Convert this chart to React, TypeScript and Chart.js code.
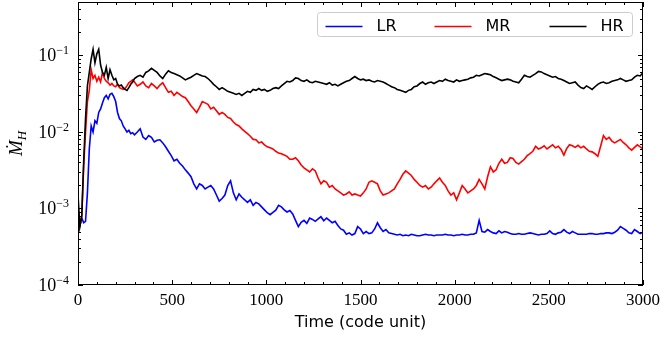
import React, { useEffect, useRef } from 'react';
import { Chart, registerables } from 'chart.js';

Chart.register(...registerables);

// ---- data ----
const time = [
  0, 10, 20, 30, 40, 50, 60, 70, 80, 90, 100, 110, 120, 130, 140, 150, 160, 170, 180, 190, 200,
  210, 220, 230, 240, 250, 260, 270, 280, 290, 300,
  315, 330, 345, 360, 375, 390, 405, 420, 435, 450,
  465, 480, 495, 510, 525, 540, 555, 570, 585, 600,
  615, 630, 645, 660, 675, 690, 705, 720, 735, 750,
  765, 780, 795, 810, 825, 840, 855, 870, 885, 900,
  915, 930, 945, 960, 975, 990, 1005, 1020, 1035, 1050,
  1065, 1080, 1095, 1110, 1125, 1140, 1155, 1170, 1185, 1200,
  1215, 1230, 1245, 1260, 1275, 1290, 1305, 1320, 1335, 1350,
  1365, 1380, 1395, 1410, 1425, 1440, 1455, 1470, 1485, 1500,
  1515, 1530, 1545, 1560, 1575, 1590, 1605, 1620, 1635, 1650,
  1665, 1680, 1695, 1710, 1725, 1740, 1755, 1770, 1785, 1800,
  1815, 1830, 1845, 1860, 1875, 1890, 1905, 1920, 1935, 1950,
  1965, 1980, 1995, 2010, 2025, 2040, 2055, 2070, 2085, 2100,
  2115, 2130, 2145, 2160, 2175, 2190, 2205, 2220, 2235, 2250,
  2265, 2280, 2295, 2310, 2325, 2340, 2355, 2370, 2385, 2400,
  2415, 2430, 2445, 2460, 2475, 2490, 2505, 2520, 2535, 2550,
  2565, 2580, 2595, 2610, 2625, 2640, 2655, 2670, 2685, 2700,
  2715, 2730, 2745, 2760, 2775, 2790, 2805, 2820, 2835, 2850,
  2865, 2880, 2895, 2910, 2925, 2940, 2955, 2970, 2985, 3000,
];

const lrValues = [
  5.0e-4, 6.0e-4, 7.5e-4, 6.5e-4, 6.8e-4, 1.6e-3, 6.0e-3, 1.2e-2, 1.0e-2, 1.4e-2, 1.3e-2, 1.8e-2, 2.0e-2, 2.4e-2, 2.8e-2, 3.0e-2, 2.7e-2, 3.1e-2, 3.2e-2, 2.9e-2, 2.5e-2,
  1.8e-2, 1.5e-2, 1.4e-2, 1.2e-2, 1.1e-2, 1.0e-2, 1.05e-2, 9.5e-3, 9.8e-3, 9.2e-3,
  1.0e-2, 1.1e-2, 8.6e-3, 8.0e-3, 9.0e-3, 8.5e-3, 7.4e-3, 7.8e-3, 7.9e-3, 7.2e-3,
  6.4e-3, 5.6e-3, 4.9e-3, 4.2e-3, 4.4e-3, 3.9e-3, 3.6e-3, 3.2e-3, 2.9e-3, 2.6e-3,
  2.1e-3, 1.8e-3, 2.1e-3, 2.0e-3, 1.8e-3, 1.9e-3, 2.0e-3, 1.8e-3, 1.5e-3, 1.25e-3,
  1.35e-3, 1.5e-3, 2.0e-3, 2.3e-3, 1.6e-3, 1.3e-3, 1.55e-3, 1.4e-3, 1.3e-3, 1.2e-3,
  1.3e-3, 1.1e-3, 1.2e-3, 1.15e-3, 1.05e-3, 9.6e-4, 8.8e-4, 8.3e-4, 8.9e-4, 9.5e-4,
  1.1e-3, 1.05e-3, 9.6e-4, 9.0e-4, 9.4e-4, 8.5e-4, 7.0e-4, 5.8e-4, 6.6e-4, 7.0e-4,
  6.4e-4, 7.5e-4, 7.2e-4, 6.8e-4, 7.3e-4, 7.8e-4, 6.9e-4, 7.5e-4, 7.0e-4, 6.5e-4,
  6.8e-4, 6.0e-4, 5.4e-4, 5.2e-4, 4.6e-4, 4.8e-4, 4.5e-4, 4.7e-4, 5.8e-4, 5.4e-4,
  4.7e-4, 5.0e-4, 4.7e-4, 4.8e-4, 5.4e-4, 6.5e-4, 5.6e-4, 5.0e-4, 5.3e-4, 4.8e-4,
  4.7e-4, 4.6e-4, 4.5e-4, 4.6e-4, 4.4e-4, 4.5e-4, 4.4e-4, 4.6e-4, 4.5e-4, 4.4e-4,
  4.4e-4, 4.5e-4, 4.6e-4, 4.5e-4, 4.5e-4, 4.4e-4, 4.5e-4, 4.5e-4, 4.5e-4, 4.6e-4,
  4.5e-4, 4.5e-4, 4.4e-4, 4.5e-4, 4.5e-4, 4.6e-4, 4.5e-4, 4.5e-4, 4.6e-4, 4.6e-4,
  4.8e-4, 7.0e-4, 5.0e-4, 4.9e-4, 5.3e-4, 5.0e-4, 4.8e-4, 4.7e-4, 5.1e-4, 4.8e-4,
  5.0e-4, 4.9e-4, 4.7e-4, 4.6e-4, 4.6e-4, 4.7e-4, 4.6e-4, 4.6e-4, 4.7e-4, 4.8e-4,
  4.7e-4, 4.6e-4, 4.5e-4, 4.6e-4, 4.6e-4, 4.7e-4, 5.1e-4, 4.7e-4, 4.6e-4, 4.8e-4,
  4.9e-4, 5.3e-4, 4.9e-4, 4.7e-4, 5.0e-4, 4.8e-4, 4.6e-4, 4.6e-4, 4.6e-4, 4.6e-4,
  4.7e-4, 4.7e-4, 4.6e-4, 4.6e-4, 4.7e-4, 4.7e-4, 4.8e-4, 4.8e-4, 4.7e-4, 4.9e-4,
  5.2e-4, 5.8e-4, 5.5e-4, 5.2e-4, 4.8e-4, 4.7e-4, 5.3e-4, 5.0e-4, 4.7e-4, 4.9e-4,
];

const mrValues = [
  4.8e-4, 6.0e-4, 8.0e-4, 3.5e-3, 1.0e-2, 2.5e-2, 3.5e-2, 6.5e-2, 5.0e-2, 5.5e-2, 4.6e-2, 5.2e-2, 4.5e-2, 6.0e-2, 5.0e-2, 4.6e-2, 4.4e-2, 4.1e-2, 4.3e-2, 4.0e-2, 3.9e-2,
  4.2e-2, 3.8e-2, 3.7e-2, 3.6e-2, 3.7e-2, 4.0e-2, 4.4e-2, 4.6e-2, 4.8e-2, 4.5e-2,
  4.0e-2, 4.2e-2, 4.5e-2, 4.0e-2, 3.8e-2, 4.3e-2, 4.0e-2, 3.7e-2, 4.1e-2, 4.4e-2,
  3.8e-2, 3.3e-2, 3.4e-2, 3.0e-2, 3.3e-2, 3.1e-2, 2.9e-2, 2.8e-2, 2.5e-2, 2.2e-2,
  2.0e-2, 1.8e-2, 2.1e-2, 2.5e-2, 2.4e-2, 2.3e-2, 2.0e-2, 2.1e-2, 1.9e-2, 1.7e-2,
  1.8e-2, 1.7e-2, 1.55e-2, 1.5e-2, 1.35e-2, 1.25e-2, 1.2e-2, 1.1e-2, 1.02e-2, 9.5e-3,
  8.8e-3, 8.0e-3, 7.9e-3, 7.2e-3, 7.4e-3, 6.8e-3, 6.4e-3, 6.2e-3, 6.0e-3, 5.6e-3,
  5.3e-3, 5.2e-3, 5.0e-3, 4.8e-3, 4.4e-3, 4.4e-3, 4.6e-3, 4.2e-3, 3.7e-3, 3.4e-3,
  3.2e-3, 3.0e-3, 3.3e-3, 3.1e-3, 2.5e-3, 2.1e-3, 2.3e-3, 2.2e-3, 1.9e-3, 2.0e-3,
  1.8e-3, 1.7e-3, 1.6e-3, 1.5e-3, 1.55e-3, 1.65e-3, 1.5e-3, 1.55e-3, 1.5e-3, 1.45e-3,
  1.6e-3, 1.8e-3, 2.2e-3, 2.3e-3, 2.2e-3, 2.1e-3, 1.7e-3, 1.5e-3, 1.55e-3, 1.6e-3,
  1.7e-3, 1.8e-3, 2.1e-3, 2.4e-3, 2.8e-3, 3.1e-3, 2.9e-3, 2.7e-3, 2.4e-3, 2.2e-3,
  2.0e-3, 1.9e-3, 2.0e-3, 1.8e-3, 1.9e-3, 2.1e-3, 2.3e-3, 2.5e-3, 2.2e-3, 2.0e-3,
  1.7e-3, 1.5e-3, 1.6e-3, 1.3e-3, 1.6e-3, 2.0e-3, 1.8e-3, 1.6e-3, 1.7e-3, 1.8e-3,
  2.0e-3, 2.4e-3, 2.1e-3, 1.8e-3, 2.6e-3, 3.5e-3, 3.0e-3, 3.2e-3, 3.9e-3, 4.4e-3,
  3.9e-3, 4.0e-3, 4.6e-3, 4.5e-3, 4.0e-3, 3.8e-3, 4.1e-3, 4.4e-3, 4.9e-3, 5.2e-3,
  5.6e-3, 6.5e-3, 6.0e-3, 6.2e-3, 6.6e-3, 6.0e-3, 6.4e-3, 6.8e-3, 6.2e-3, 6.5e-3,
  5.9e-3, 5.0e-3, 6.1e-3, 6.8e-3, 6.6e-3, 6.3e-3, 6.7e-3, 6.2e-3, 6.5e-3, 6.0e-3,
  5.6e-3, 5.5e-3, 5.2e-3, 4.8e-3, 6.5e-3, 9.0e-3, 8.0e-3, 8.5e-3, 7.6e-3, 7.2e-3,
  7.6e-3, 8.0e-3, 7.3e-3, 6.8e-3, 6.2e-3, 5.8e-3, 6.3e-3, 6.8e-3, 6.4e-3, 6.0e-3,
];

const hrValues = [
  1.5e-3, 5.8e-4, 8.0e-4, 4.0e-3, 1.5e-2, 4.0e-2, 6.0e-2, 9.0e-2, 1.2e-1, 8.0e-2, 1.05e-1, 1.2e-1, 7.5e-2, 6.0e-2, 5.5e-2, 7.0e-2, 5.0e-2, 6.5e-2, 5.5e-2, 4.8e-2, 5.0e-2,
  4.2e-2, 4.0e-2, 4.1e-2, 3.8e-2, 3.6e-2, 3.5e-2, 3.8e-2, 4.2e-2, 4.5e-2, 5.0e-2,
  5.3e-2, 5.5e-2, 5.2e-2, 6.0e-2, 6.3e-2, 6.8e-2, 6.4e-2, 6.0e-2, 5.4e-2, 5.0e-2,
  5.7e-2, 6.3e-2, 6.0e-2, 5.8e-2, 5.6e-2, 5.4e-2, 5.1e-2, 4.8e-2, 5.0e-2, 5.2e-2,
  5.5e-2, 5.8e-2, 5.6e-2, 5.4e-2, 5.3e-2, 5.0e-2, 4.6e-2, 4.2e-2, 3.9e-2, 3.6e-2,
  3.8e-2, 3.6e-2, 3.4e-2, 3.3e-2, 3.2e-2, 3.1e-2, 3.2e-2, 3.0e-2, 3.2e-2, 3.4e-2,
  3.3e-2, 3.6e-2, 3.5e-2, 3.7e-2, 3.5e-2, 3.6e-2, 3.4e-2, 3.5e-2, 3.7e-2, 3.8e-2,
  3.7e-2, 4.0e-2, 4.3e-2, 4.6e-2, 4.5e-2, 4.7e-2, 5.1e-2, 5.0e-2, 4.7e-2, 4.6e-2,
  4.8e-2, 4.5e-2, 4.4e-2, 4.6e-2, 4.5e-2, 4.4e-2, 4.3e-2, 4.2e-2, 4.4e-2, 4.1e-2,
  4.2e-2, 4.0e-2, 4.2e-2, 4.4e-2, 4.6e-2, 4.7e-2, 5.0e-2, 5.3e-2, 5.0e-2, 4.8e-2,
  4.9e-2, 4.7e-2, 4.8e-2, 4.6e-2, 4.5e-2, 4.7e-2, 4.6e-2, 4.5e-2, 4.3e-2, 4.1e-2,
  3.9e-2, 3.8e-2, 3.6e-2, 3.5e-2, 3.4e-2, 3.3e-2, 3.5e-2, 3.6e-2, 3.9e-2, 4.0e-2,
  4.3e-2, 4.5e-2, 4.2e-2, 4.4e-2, 4.5e-2, 4.3e-2, 4.5e-2, 4.7e-2, 4.6e-2, 4.9e-2,
  4.7e-2, 4.6e-2, 4.5e-2, 4.8e-2, 4.6e-2, 4.7e-2, 4.8e-2, 4.9e-2, 5.1e-2, 5.2e-2,
  5.5e-2, 5.4e-2, 5.6e-2, 5.8e-2, 5.7e-2, 5.6e-2, 5.3e-2, 5.1e-2, 4.9e-2, 4.7e-2,
  4.8e-2, 4.9e-2, 4.8e-2, 4.6e-2, 4.5e-2, 4.4e-2, 4.9e-2, 5.5e-2, 5.3e-2, 5.2e-2,
  5.5e-2, 5.8e-2, 6.2e-2, 6.1e-2, 5.8e-2, 5.6e-2, 5.4e-2, 5.2e-2, 5.3e-2, 5.0e-2,
  4.9e-2, 4.7e-2, 4.5e-2, 4.3e-2, 4.4e-2, 4.5e-2, 4.1e-2, 3.8e-2, 3.7e-2, 4.0e-2,
  3.8e-2, 3.6e-2, 3.9e-2, 4.2e-2, 4.4e-2, 4.5e-2, 4.3e-2, 4.4e-2, 4.6e-2, 4.7e-2,
  4.8e-2, 5.0e-2, 4.8e-2, 4.6e-2, 4.7e-2, 4.8e-2, 5.2e-2, 5.5e-2, 5.4e-2, 6.0e-2,
];

const seriesNames = ['LR', 'MR', 'HR'];
const seriesColors = ['#0000ff', '#ff0000', '#000000'];
const xMin = 0;
const xMax = 3000;
const xStep = 500;
const xMinorStep = 100;
const yMin = 1e-4;
const yMax = 0.5;
const yTickExponents = [-4, -3, -2, -1];
const xTitle = 'Time (code unit)';
const yTitleMain = 'Ṁ';
const yTitleSub = 'H';

const SERIF = '"Liberation Serif", "DejaVu Serif", serif';
const SANS = '"DejaVu Sans", sans-serif';

const decorPlugin = {
  id: 'decor',
  afterDraw(chart: any) {
    const { ctx, chartArea, scales } = chart;
    const { left, right, top, bottom } = chartArea;
    const xs = scales.x;
    const ys = scales.y;
    ctx.save();
    ctx.strokeStyle = '#000';
    ctx.lineWidth = 1;

    // inward ticks on all sides
    ctx.beginPath();
    for (let t = xMin; t <= xMax; t += xMinorStep) {
      const px = Math.round(xs.getPixelForValue(t)) + 0.5;
      const len = t % xStep === 0 ? 5 : 3;
      ctx.moveTo(px, bottom);
      ctx.lineTo(px, bottom - len);
      ctx.moveTo(px, top);
      ctx.lineTo(px, top + len);
    }
    for (let e = -4; e <= 0; e++) {
      for (let m = 1; m <= 9; m++) {
        const v = m * Math.pow(10, e);
        if (v < yMin * 0.999 || v > yMax * 1.001) continue;
        const py = Math.round(ys.getPixelForValue(v)) + 0.5;
        const len = m === 1 ? 5 : 3;
        ctx.moveTo(left, py);
        ctx.lineTo(left + len, py);
        ctx.moveTo(right, py);
        ctx.lineTo(right - len, py);
      }
    }
    ctx.stroke();

    // frame
    ctx.strokeRect(left + 0.5, top + 0.5, right - left - 1, bottom - top - 1);

    // y tick labels with superscripts
    ctx.fillStyle = '#000';
    ctx.textBaseline = 'alphabetic';
    for (const e of yTickExponents) {
      const py = ys.getPixelForValue(Math.pow(10, e));
      const sup = '\u2212' + Math.abs(e);
      ctx.font = `12px ${SERIF}`;
      const supW = ctx.measureText(sup).width;
      const xr = left - 9;
      ctx.textAlign = 'left';
      ctx.fillText(sup, xr - supW, py - 1);
      ctx.font = `18px ${SERIF}`;
      ctx.textAlign = 'right';
      ctx.fillText('10', xr - supW, py + 6);
    }

    // y title (rotated)
    ctx.save();
    ctx.translate(18, (top + bottom) / 2);
    ctx.rotate(-Math.PI / 2);
    ctx.font = `italic 19px ${SERIF}`;
    const mW = ctx.measureText(yTitleMain).width;
    ctx.font = `italic 13px ${SERIF}`;
    const hW = ctx.measureText(yTitleSub).width;
    const total = mW + hW;
    ctx.textAlign = 'left';
    ctx.font = `italic 19px ${SERIF}`;
    ctx.fillText(yTitleMain, -total / 2, 4);
    ctx.font = `italic 13px ${SERIF}`;
    ctx.fillText(yTitleSub, -total / 2 + mW, 8);
    ctx.restore();

    // x title
    ctx.font = `16px ${SANS}`;
    ctx.textAlign = 'center';
    ctx.textBaseline = 'middle';
    ctx.fillText(xTitle, (left + right) / 2, 323);

    // legend
    const bx = right - 325.5;
    const by = 12.5;
    const bw = 315;
    const bh = 24;
    ctx.beginPath();
    ctx.roundRect(bx, by, bw, bh, 3);
    ctx.fillStyle = 'rgba(255,255,255,0.8)';
    ctx.fill();
    ctx.strokeStyle = '#cccccc';
    ctx.stroke();
    const entryX = [bx + 8, bx + 117, bx + 232];
    ctx.font = `16px ${SANS}`;
    ctx.textAlign = 'left';
    ctx.textBaseline = 'middle';
    for (let i = 0; i < seriesNames.length; i++) {
      const lx = entryX[i];
      ctx.beginPath();
      ctx.strokeStyle = seriesColors[i];
      ctx.lineWidth = 1.5;
      ctx.moveTo(lx, by + 14);
      ctx.lineTo(lx + 37, by + 14);
      ctx.stroke();
      ctx.fillStyle = '#000';
      ctx.fillText(seriesNames[i], lx + 51, by + 14);
    }
    ctx.restore();
  },
};

export default function App() {
  const ref = useRef<HTMLCanvasElement | null>(null);
  useEffect(() => {
    if (!ref.current) return;
    const values = [lrValues, mrValues, hrValues];
    const chart = new Chart(ref.current, {
      type: 'line',
      data: {
        datasets: seriesNames.map((name, i) => ({
          label: name,
          data: time.map((t, j) => ({ x: t, y: values[i][j] })),
          borderColor: seriesColors[i],
          backgroundColor: seriesColors[i],
          borderWidth: 1.6,
          pointRadius: 0,
          tension: 0,
          fill: false,
          order: 3 - i,
        })),
      },
      options: {
        animation: false,
        responsive: false,
        maintainAspectRatio: false,
        layout: { padding: { top: 2, right: 17, left: 0, bottom: 0 } },
        plugins: { legend: { display: false }, tooltip: { enabled: false } },
        scales: {
          x: {
            type: 'linear',
            min: xMin,
            max: xMax,
            grid: { display: false, drawTicks: false },
            border: { display: false },
            ticks: {
              stepSize: xStep,
              autoSkip: false,
              maxRotation: 0,
              padding: 5,
              color: '#000',
              font: { family: SERIF, size: 17 },
              callback: (v: any) => String(v),
            },
            afterFit: (s: any) => {
              s.height = 52;
              s.paddingLeft = 0;
              s.paddingRight = 0;
            },
          },
          y: {
            type: 'logarithmic',
            min: yMin,
            max: yMax,
            grid: { display: false, drawTicks: false },
            border: { display: false },
            ticks: { display: false },
            afterFit: (s: any) => {
              s.width = 78;
              s.paddingTop = 0;
              s.paddingBottom = 0;
            },
          },
        },
      },
      plugins: [decorPlugin],
    });
    return () => chart.destroy();
  }, []);
  return (
    <div style={{ position: 'absolute', left: 0, top: 0, width: 660, height: 337, background: '#fff' }}>
      <canvas ref={ref} width={660} height={337} style={{ display: 'block' }} />
    </div>
  );
}
